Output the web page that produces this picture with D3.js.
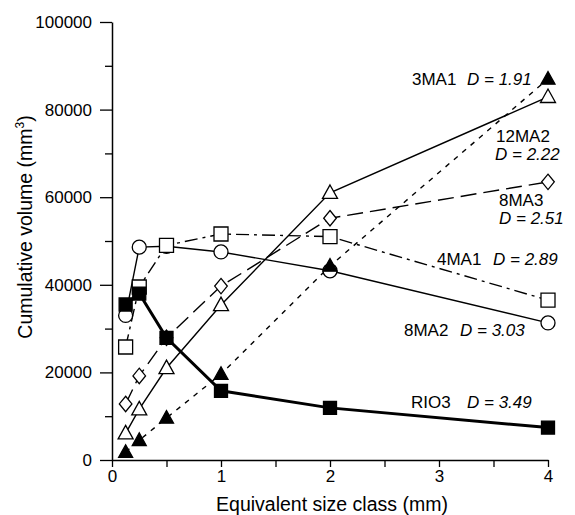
<!DOCTYPE html>
<html>
<head>
<meta charset="utf-8">
<script src="https://cdn.jsdelivr.net/npm/d3@7"></script>
<style>
  body { margin: 0; background: #fff; }
  svg { display: block; font-family: Arial, "Liberation Sans", sans-serif; }
</style>
</head>
<body>
<svg id="chart" width="575" height="515"></svg>
<script>
// size classes (mm) on the x axis
const sizeClasses = [0.125, 0.25, 0.5, 1, 2, 4];

// cumulative volume (mm3) per sample
const rio3  = [35500, 38000, 27900, 15800, 11900, 7400];
const ma3_1 = [1800, 4500, 9600, 19600, 44300, 87000];
const ma12_2 = [6100, 11600, 21000, 35400, 61000, 82900];
const ma8_3 = [12800, 19200, 27900, 39700, 55200, 63500];
const ma4_1 = [25800, 39500, 49000, 51600, 51000, 36500];
const ma8_2 = [33000, 48600, 48800, 47500, 43200, 31300];

const sampleNames = ["4MA1", "8MA2", "8MA3", "12MA2", "3MA1", "RIO3"];
const fractalD = ["2.89", "3.03", "2.51", "2.22", "1.91", "3.49"];

const yTicks = [0, 10000, 20000, 30000, 40000, 50000, 60000, 70000, 80000, 90000, 100000];
const xTicks = [0, 0.5, 1, 1.5, 2, 2.5, 3, 3.5, 4];

const svg = d3.select("#chart");

const x = d3.scaleLinear().domain([0, 4]).range([112, 548]);
const y = d3.scaleLinear().domain([0, 100000]).range([460, 22]);

// y axis: long ticks with labels every 20000, short ones between
const yAxis = svg.append("g")
    .attr("transform", `translate(${x(0)},0)`)
    .call(d3.axisLeft(y)
        .tickValues(yTicks)
        .tickSizeOuter(0)
        .tickPadding(8)
        .tickFormat(d => d % 20000 === 0 ? d : ""));
yAxis.selectAll(".tick line")
    .attr("x2", d => d % 20000 === 0 ? -12 : -7);
yAxis.selectAll(".tick text")
    .attr("x", -20)
    .style("font-size", "17px")
    .style("font-family", "Arial, 'Liberation Sans', sans-serif");

const xAxis = svg.append("g")
    .attr("transform", `translate(0,${y(0)})`)
    .call(d3.axisBottom(x)
        .tickValues(xTicks)
        .tickSize(7)
        .tickSizeOuter(0)
        .tickPadding(3)
        .tickFormat(d => Number.isInteger(d) ? d : ""));
xAxis.selectAll(".tick text")
    .style("font-size", "17px")
    .style("font-family", "Arial, 'Liberation Sans', sans-serif");

svg.selectAll(".domain").attr("stroke", "#000").attr("stroke-width", 1.5);
svg.selectAll(".tick line").attr("stroke", "#000").attr("stroke-width", 1.3);
svg.selectAll(".tick text").attr("fill", "#000");

// axis titles
svg.append("text")
    .attr("x", 332)
    .attr("y", 511)
    .attr("text-anchor", "middle")
    .style("font-size", "19.5px")
    .text("Equivalent size class (mm)");

const yTitle = svg.append("text")
    .attr("transform", "translate(32,227) rotate(-90)")
    .attr("text-anchor", "middle")
    .style("font-size", "19.5px");
yTitle.append("tspan").text("Cumulative volume (mm");
yTitle.append("tspan").attr("dy", -8).style("font-size", "12px").text("3");
yTitle.append("tspan").attr("dy", 8).text(")");

// series, listed in drawing order
const series = [
    { values: ma8_2, dash: null, width: 1.4, symbol: "circle", fill: "#fff", size: 14 },
    { values: ma4_1, dash: "13,5,3,5", width: 1.4, symbol: "square", fill: "#fff", size: 14 },
    { values: ma8_3, dash: "16,7", width: 1.4, symbol: "diamond", fill: "#fff", size: 14 },
    { values: ma12_2, dash: null, width: 1.4, symbol: "triangle", fill: "#fff", size: 15 },
    { values: ma3_1, dash: "5,6", width: 1.4, symbol: "triangle", fill: "#000", size: 14 },
    { values: rio3, dash: null, width: 3, symbol: "square", fill: "#000", size: 13 }
];

const line = d3.line()
    .x((d, i) => x(sizeClasses[i]))
    .y(d => y(d));

svg.append("g").selectAll("path")
    .data(series)
    .join("path")
    .attr("d", s => line(s.values))
    .attr("fill", "none")
    .attr("stroke", "#000")
    .attr("stroke-width", s => s.width)
    .attr("stroke-dasharray", s => s.dash);

function markerPath(kind, s) {
    const h = s / 2;
    if (kind === "square") return `M${-h},${-h}H${h}V${h}H${-h}Z`;
    if (kind === "diamond") return `M0,${-h * 1.1}L${h * 0.9},0L0,${h * 1.1}L${-h * 0.9},0Z`;
    if (kind === "triangle") return `M0,${-h * 1.05}L${h},${h * 0.75}L${-h},${h * 0.75}Z`;
    return d3.arc()({ innerRadius: 0, outerRadius: h, startAngle: 0, endAngle: 2 * Math.PI });
}

series.forEach(s => {
    svg.append("g").selectAll("path")
        .data(s.values)
        .join("path")
        .attr("transform", (d, i) => `translate(${x(sizeClasses[i])},${y(d)})`)
        .attr("d", markerPath(s.symbol, s.size))
        .attr("fill", s.fill)
        .attr("stroke", "#000")
        .attr("stroke-width", 1.3);
});

// sample labels: [x, y] of the text start, and offset of the "D =" part
const labelLayout = [
    { x: 437, y: 265, dx: 56, twoLine: false },
    { x: 404, y: 336, dx: 56, twoLine: false },
    { x: 499, y: 206, dx: 0, twoLine: true },
    { x: 496, y: 142, dx: -1, twoLine: true },
    { x: 412, y: 85, dx: 55, twoLine: false },
    { x: 411, y: 408, dx: 56, twoLine: false }
];

const labels = svg.append("g").style("font-size", "17px");
sampleNames.forEach((name, i) => {
    const pos = labelLayout[i];
    const t = labels.append("text").attr("x", pos.x).attr("y", pos.y);
    t.append("tspan").text(name);
    const d = t.append("tspan").style("font-style", "italic");
    if (pos.twoLine) d.attr("x", pos.x + pos.dx).attr("dy", 18);
    else d.attr("x", pos.x + pos.dx);
    d.text(`D = ${fractalD[i]}`);
});
</script>
</body>
</html>
